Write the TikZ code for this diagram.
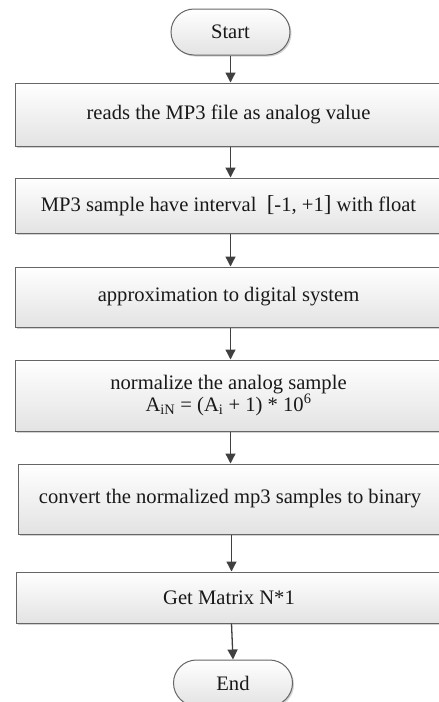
\documentclass[tikz,border=0pt]{standalone}
\usepackage{fontspec}
\setmainfont{Liberation Serif}
\usetikzlibrary{arrows.meta,shadows}
\begin{document}
\begin{tikzpicture}[x=1pt,y=-1pt,
 base/.style={draw=black!60, line width=1pt, top color=white, bottom color=black!11,
   drop shadow={shadow xshift=1.5pt,shadow yshift=-1.5pt,opacity=0.35,fill=black!50},
   font=\fontsize{20.6}{22}\selectfont, text=black!90, inner sep=0pt, align=center},
 term/.style={base, rounded corners=23pt, minimum width=119pt, minimum height=46pt},
 proc/.style={base, minimum width=427pt},
 arr/.style={draw=black!75, line width=1.3pt, -{Triangle[width=10pt,length=10pt]}}]
\useasboundingbox[fill=white] (0,0) rectangle (439,702);
\begin{scope}
\clip (0,0) rectangle (439,702);
\node[term] (start) at (230.5,32) {Start};
\node[proc, minimum height=63pt] (b1) at (228.5,114.5) {reads the MP3 file as analog value};
\node[proc, minimum height=55pt] (b2) at (228.5,205.5) {MP3 sample have interval~ {\fontsize{23}{22}\selectfont[}-1, +1{\fontsize{23}{22}\selectfont]} with float};
\node[proc, minimum height=60pt] (b3) at (228.5,297) {approximation to digital system};
\node[proc, minimum height=71pt] (b4) at (228.5,395.5) {normalize the analog sample\\A\textsubscript{iN} = (A\textsubscript{i} + 1) * 10\textsuperscript{6}};
\node[proc, minimum height=70pt, minimum width=424pt] (b5) at (230,499) {convert the normalized mp3 samples to binary};
\node[proc, minimum height=51pt, minimum width=426pt] (b6) at (229,597.5) {Get Matrix N*1};
\node[term] (endn) at (233,683) {End};
\draw[arr] (start.south) -- (start.south |- b1.north);
\draw[arr] (b1.south -| start.south) -- (b2.north -| start.south);
\draw[arr] (b2.south -| start.south) -- (b3.north -| start.south);
\draw[arr] (b3.south -| start.south) -- (b4.north -| start.south);
\draw[arr] (b4.south -| start.south) -- (b5.north -| start.south);
\draw[arr] ([xshift=1pt]b5.south -| start.south) -- ([xshift=1pt]b6.north -| start.south);
\draw[arr] ([xshift=1pt]b6.south -| start.south) -- (endn.north);
\end{scope}
\end{tikzpicture}
\end{document}
